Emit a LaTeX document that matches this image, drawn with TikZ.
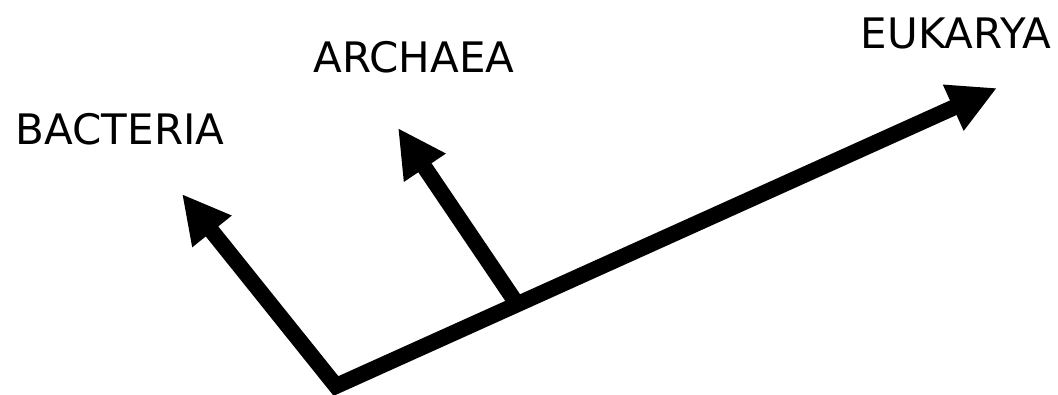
\documentclass[tikz,border=0pt]{standalone}
\usepackage{fontspec}
\setmainfont{DejaVu Sans}
\usetikzlibrary{arrows.meta}
\tikzset{
  branch/.style={line width=16pt, line join=miter, -{Triangle[length=48pt,width=47pt]}},
  label/.style={inner sep=0pt, font=\fontsize{42pt}{44pt}\selectfont}
}
\begin{document}
\begin{tikzpicture}[x=1pt,y=-1pt]
\useasboundingbox (0,0) rectangle (1058,395);
\coordinate (root) at (336,386);
\coordinate (btip) at (182,194);
\coordinate (abase) at (517,304);
\coordinate (atip) at (398,128);
\coordinate (etip) at (997,88);
\draw[line width=16pt, line join=miter, {Triangle[length=48pt,width=47pt]}-{Triangle[length=48pt,width=47pt]}] (btip) -- (root) -- (etip);
\draw[branch] (abase) -- (atip);
\node[label] (bac) at (120,129) {BACTERIA};
\node[label] (arc) at (414,57.5) {ARCHAEA};
\node[label] (euk) at (956,33) {EUKARYA};
\end{tikzpicture}
\end{document}
